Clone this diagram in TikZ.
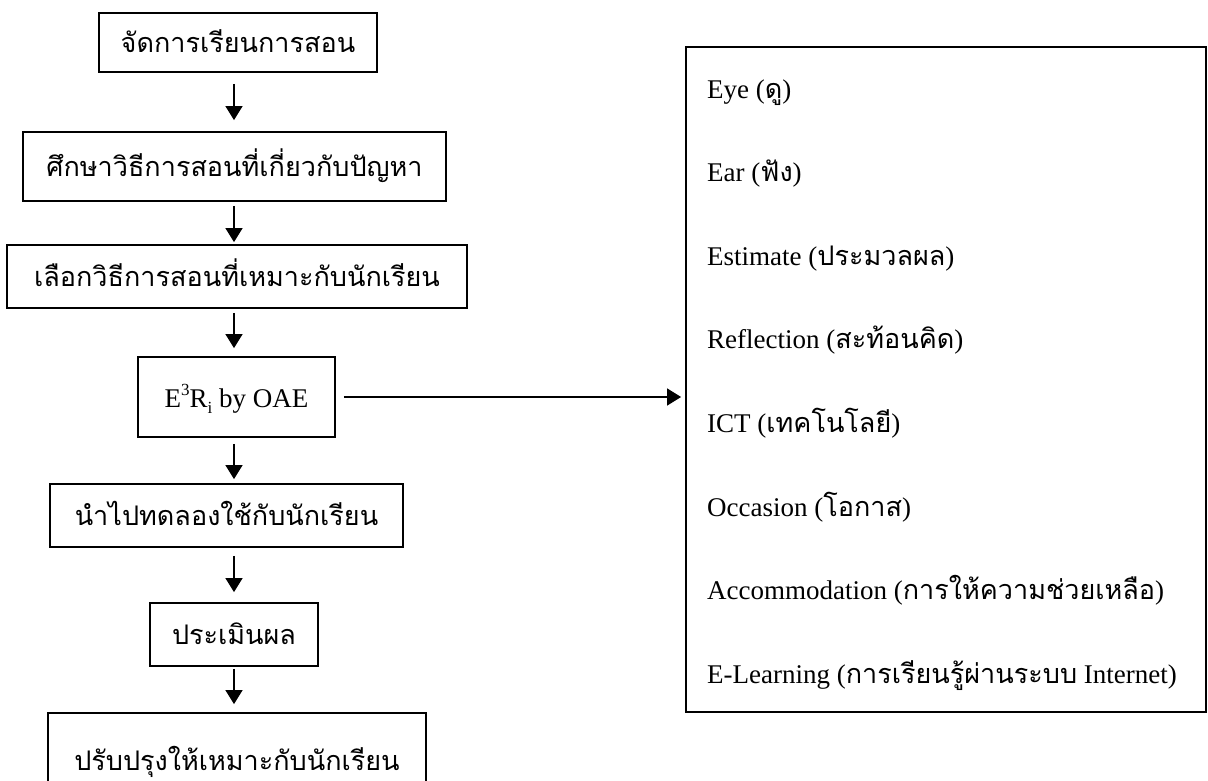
\documentclass[tikz,border=0pt]{standalone}
\usepackage{fontspec}
\setmainfont{Liberation Serif}
\newfontfamily\thaifont[Script=Thai]{Loma}
\usetikzlibrary{arrows.meta}
\newcommand{\tx}[1]{{\thaifont\fontsize{27}{31}\selectfont #1}}
\begin{document}
\begin{tikzpicture}[x=1pt,y=-1pt,
  box/.style={draw, line width=1.8pt, inner sep=0pt, text height=20pt, text depth=0pt,
    font=\fontsize{27}{31}\selectfont},
  item/.style={anchor=base west, inner sep=0pt, font=\fontsize{27}{31}\selectfont},
  arr/.style={line width=1.3pt, -{Triangle[length=14pt,width=17pt]}}]
\useasboundingbox (0,0) rectangle (1208,781);
\clip (0,0) rectangle (1208,781);
\coordinate (ax) at (234,0);
\node[box, minimum width=278pt, minimum height=59pt] (b1) at (238,42.5) {\tx{จัดการเรียนการสอน}};
\node[box, minimum width=423pt, minimum height=69pt] (b2) at (234.5,166.5) {\tx{ศึกษาวิธีการสอนที่เกี่ยวกับปัญหา}};
\node[box, minimum width=460pt, minimum height=63pt] (b3) at (237,276.5) {\tx{เลือกวิธีการสอนที่เหมาะกับนักเรียน}};
\node[box, minimum width=197pt, minimum height=80pt] (b4) at (236.5,397) {E\raisebox{12pt}{\fontsize{17}{19}\selectfont 3}R\raisebox{-6pt}{\fontsize{17}{19}\selectfont i} by OAE};
\node[box, minimum width=353pt, minimum height=63pt] (b5) at (226.5,515.5) {\tx{นำไปทดลองใช้กับนักเรียน}};
\node[box, minimum width=168pt, minimum height=63pt] (b6) at (234,634.5) {\tx{ประเมินผล}};
\node[box, minimum width=378pt, minimum height=94pt] (b7) at (237,760) {\tx{ปรับปรุงให้เหมาะกับนักเรียน}};
\node[draw, line width=1.8pt, inner sep=0pt, minimum width=520pt, minimum height=665pt] (rb) at (946,379.5) {};
\node[item] (i1) at (707,99) {Eye (\tx{ดู})};
\node[item] (i2) at (707,182) {Ear (\tx{ฟัง})};
\node[item] (i3) at (707,265) {Estimate (\tx{ประมวลผล})};
\node[item] (i4) at (707,348) {Reflection (\tx{สะท้อนคิด})};
\node[item] (i5) at (707,432) {ICT (\tx{เทคโนโลยี})};
\node[item] (i6) at (707,516) {Occasion (\tx{โอกาส})};
\node[item] (i7) at (707,599) {Accommodation (\tx{การให้ความช่วยเหลือ})};
\node[item] (i8) at (707,683) {E-Learning (\tx{การเรียนรู้ผ่านระบบ} Internet)};
\draw[arr] ([yshift=-11pt]b1.south -| ax) -- ([yshift=11pt]b2.north -| ax);
\draw[arr] ([yshift=-4pt]b2.south -| ax) -- ([yshift=2pt]b3.north -| ax);
\draw[arr] ([yshift=-4pt]b3.south -| ax) -- ([yshift=8pt]b4.north -| ax);
\draw[arr] ([yshift=-6pt]b4.south -| ax) -- ([yshift=4pt]b5.north -| ax);
\draw[arr] ([yshift=-8pt]b5.south -| ax) -- ([yshift=10pt]b6.north -| ax);
\draw[arr] ([yshift=-2pt]b6.south -| ax) -- ([yshift=8pt]b7.north -| ax);
\draw[arr] ([xshift=8pt]b4.east) -- ([xshift=-4pt]rb.west |- b4.east);
\end{tikzpicture}
\end{document}
